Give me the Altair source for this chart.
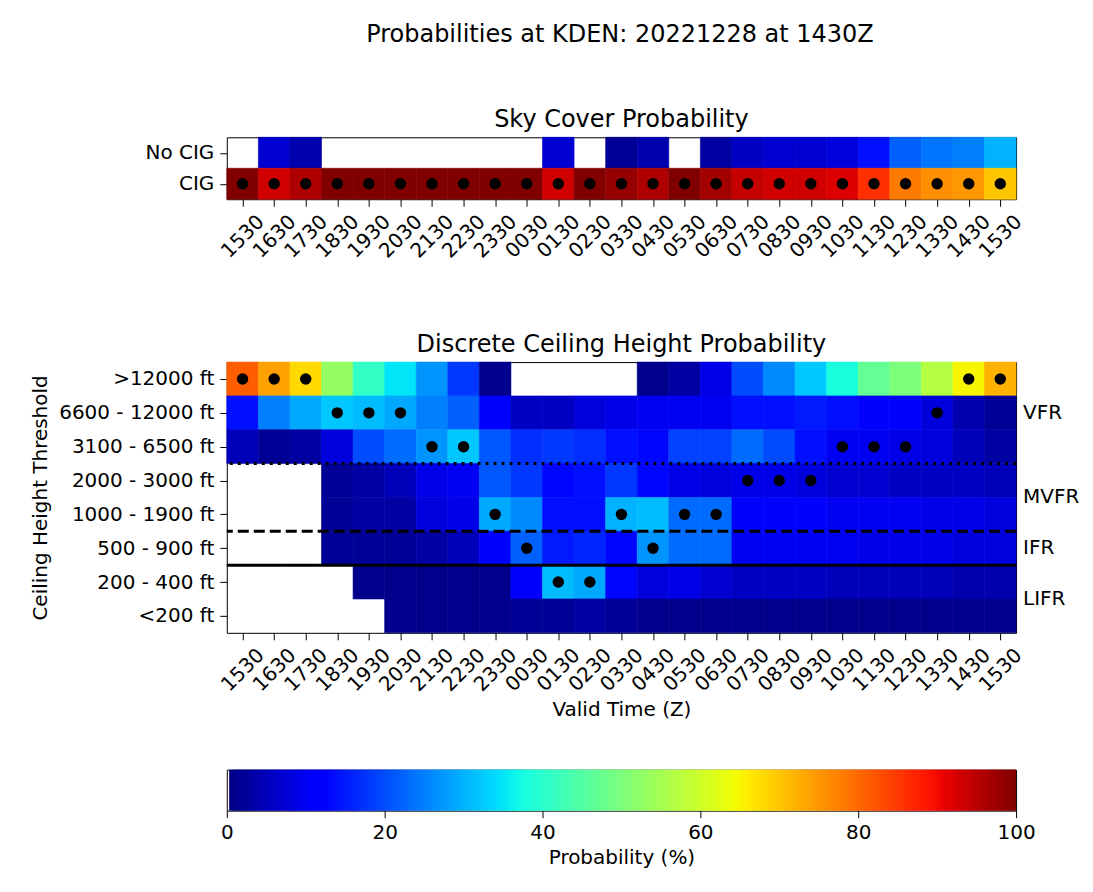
import altair as alt
import pandas as pd

# ---------------- data ----------------
main_title = "Probabilities at KDEN: 20221228 at 1430Z"
times = ["1530", "1630", "1730", "1830", "1930", "2030", "2130", "2230", "2330", "0030",
         "0130", "0230", "0330", "0430", "0530", "0630", "0730", "0830", "0930", "1030",
         "1130", "1230", "1330", "1430", "1530"]

sky_rows = ["No CIG", "CIG"]
sky_no_cig = [0, 7, 4, 0, 0, 0, 0, 0, 0, 0, 7, 0, 2, 4, 0, 3, 6, 7, 7, 8, 14, 22, 24, 25, 30]
sky_cig = [100, 93, 96, 100, 100, 100, 100, 100, 100, 100, 93, 100, 98, 96, 100, 97, 94, 93, 93, 92, 86, 78, 76, 75, 70]
sky_best = ["CIG"] * 25

ceil_rows = [">12000 ft", "6600 - 12000 ft", "3100 - 6500 ft", "2000 - 3000 ft",
             "1000 - 1900 ft", "500 - 900 ft", "200 - 400 ft", "<200 ft"]
ceil_gt12000 = [81, 74, 68, 53, 41, 35, 27, 18, 1, 0, 0, 0, 0, 1, 3, 9, 20, 26, 32, 38, 47, 50, 57, 65, 72]
ceil_6600 = [14, 25, 29, 32, 31, 29, 25, 22, 11, 6, 6, 8, 9, 10, 10, 10, 14, 14, 15, 14, 11, 11, 8, 4, 2]
ceil_3100 = [5, 2, 3, 8, 20, 23, 27, 32, 21, 17, 18, 17, 14, 13, 19, 19, 23, 20, 14, 10, 10, 9, 8, 5, 3]
ceil_2000 = [0, 0, 0, 2, 3, 5, 9, 10, 21, 18, 13, 14, 18, 13, 9, 8, 9, 9, 8, 7, 7, 6, 6, 6, 5]
ceil_1000 = [0, 0, 0, 2, 3, 3, 8, 9, 29, 26, 14, 14, 30, 31, 23, 23, 12, 12, 11, 10, 10, 10, 9, 9, 8]
ceil_500 = [0, 0, 0, 2, 2, 2, 3, 5, 11, 22, 15, 16, 13, 27, 23, 23, 10, 10, 10, 10, 9, 9, 9, 8, 8]
ceil_200 = [0, 0, 0, 0, 1, 1, 1, 1, 1, 11, 31, 29, 13, 8, 9, 7, 6, 6, 6, 5, 5, 5, 5, 4, 4]
ceil_lt200 = [0, 0, 0, 0, 0, 1, 1, 1, 1, 2, 2, 3, 2, 1, 1, 1, 1, 1, 1, 1, 1, 1, 1, 1, 1]
ceil_values = [ceil_gt12000, ceil_6600, ceil_3100, ceil_2000, ceil_1000, ceil_500, ceil_200, ceil_lt200]
ceil_best = [">12000 ft", ">12000 ft", ">12000 ft", "6600 - 12000 ft", "6600 - 12000 ft",
             "6600 - 12000 ft", "3100 - 6500 ft", "3100 - 6500 ft", "1000 - 1900 ft",
             "500 - 900 ft", "200 - 400 ft", "200 - 400 ft", "1000 - 1900 ft", "500 - 900 ft",
             "1000 - 1900 ft", "1000 - 1900 ft", "2000 - 3000 ft", "2000 - 3000 ft",
             "2000 - 3000 ft", "3100 - 6500 ft", "3100 - 6500 ft", "3100 - 6500 ft",
             "6600 - 12000 ft", ">12000 ft", ">12000 ft"]

# flight-category boundaries (lower edge of the row named) and labels
boundary_rows = ["3100 - 6500 ft", "1000 - 1900 ft", "500 - 900 ft"]
boundary_style = ["dotted", "dashed", "solid"]
flight_cats = ["VFR", "MVFR", "IFR", "LIFR"]
flight_cat_pos = [6.5, 4.0, 2.5, 1.0]   # in row units, counted from the bottom row
colorbar_ticks = [0, 20, 40, 60, 80, 100]

FONT = "DejaVu Sans"
W = 790

# ---------------- jet colormap ----------------
def _interp(pts, x):
    for (x0, y0), (x1, y1) in zip(pts, pts[1:]):
        if x0 <= x <= x1:
            return y0 if x1 == x0 else y0 + (y1 - y0) * (x - x0) / (x1 - x0)
    return pts[-1][1]

def jet(v):
    x = v / 100.0
    r = _interp([(0, 0), (0.35, 0), (0.66, 1), (0.89, 1), (1, 0.5)], x)
    g = _interp([(0, 0), (0.125, 0), (0.375, 1), (0.64, 1), (0.91, 0), (1, 0)], x)
    b = _interp([(0, 0.5), (0.11, 1), (0.34, 1), (0.65, 0), (1, 0)], x)
    return "#%02x%02x%02x" % (round(r * 255), round(g * 255), round(b * 255))

stops = [0, 11, 12.5, 34, 35, 37.5, 64, 65, 66, 89, 91, 100]
cscale = alt.Scale(domain=stops, range=[jet(s) for s in stops], interpolate="rgb", clamp=True)

# ---------------- helpers ----------------
n = len(times)
xs = alt.Scale(domain=[0, n], nice=False, zero=False)
x_label_expr = "[" + ",".join("'%s'" % t for t in times) + "][floor(datum.value)]"


def x_axis(title, title_pad, title_size=20):
    return alt.Axis(values=[i + 0.5 for i in range(n)], labelExpr=x_label_expr,
                    labelAngle=-45, labelAlign="center", labelBaseline="middle",
                    labelPadding=30, title=title, titlePadding=title_pad,
                    titleFontSize=title_size, labelFlush=False, labelOverlap=False)


def heat_panel(rows, values, best, title, height, ytitle, with_cats):
    m = len(rows)
    recs, dots = [], []
    for r, row in enumerate(rows):
        yi = m - 1 - r
        for c in range(n):
            recs.append({"x": c, "x2": c + 1, "y": yi, "y2": yi + 1, "p": values[r][c]})
    for c in range(n):
        yi = m - 1 - rows.index(best[c])
        dots.append({"x": c + 0.5, "y": yi + 0.5})
    df = pd.DataFrame(recs)
    ddf = pd.DataFrame(dots)
    ys = alt.Scale(domain=[0, m], nice=False, zero=False)
    y_label_expr = "[" + ",".join("'%s'" % rows[m - 1 - k] for k in range(m)) + "][floor(datum.value)]"
    yaxis = alt.Axis(values=[k + 0.5 for k in range(m)], labelExpr=y_label_expr,
                     title=ytitle, titlePadding=8, labelPadding=6)
    if with_cats:
        xaxis = x_axis("Valid Time (Z)", 5)
    else:
        xaxis = x_axis(" ", 2, 20)
    rect = alt.Chart(df).transform_filter("datum.p > 0").mark_rect(strokeWidth=0.6).encode(
        x=alt.X("x:Q", scale=xs, axis=xaxis),
        x2="x2:Q",
        y=alt.Y("y:Q", scale=ys, axis=yaxis),
        y2="y2:Q",
        color=alt.Color("p:Q", scale=cscale, legend=None),
        stroke=alt.Stroke("p:Q", scale=cscale, legend=None),
    )
    pts = alt.Chart(ddf).mark_circle(size=130, color="black", opacity=1).encode(
        x=alt.X("x:Q", scale=xs, axis=xaxis),
        y=alt.Y("y:Q", scale=ys, axis=yaxis),
    )
    layers = [rect, pts]
    if with_cats:
        bdf = pd.DataFrame({"y": [m - 1 - rows.index(b) for b in boundary_rows],
                            "style": boundary_style})
        rules = alt.Chart(bdf).mark_rule(strokeWidth=3, color="black").encode(
            y=alt.Y("y:Q", scale=ys, axis=yaxis),
            strokeDash=alt.StrokeDash("style:N", legend=None,
                                      scale=alt.Scale(domain=["dotted", "dashed", "solid"],
                                                      range=[[3, 5], [11, 5], [1, 0]])),
        )
        tdf = pd.DataFrame({"cat": flight_cats, "y": flight_cat_pos})
        txt = alt.Chart(tdf).mark_text(align="left", baseline="middle", dx=7,
                                       fontSize=20, font=FONT, color="black").encode(
            x=alt.XDatum(n, scale=xs, axis=xaxis),
            y=alt.Y("y:Q", scale=ys, axis=yaxis),
            text="cat:N",
        )
        layers += [rules, txt]
    return alt.layer(*layers).properties(
        width=W, height=height,
        title=alt.Title(title, fontSize=24, fontWeight="normal", font=FONT, offset=5),
    )


top = heat_panel(sky_rows, [sky_no_cig, sky_cig], sky_best, "Sky Cover Probability", 62, None, False)
bottom = heat_panel(ceil_rows, ceil_values, ceil_best, "Discrete Ceiling Height Probability", 271,
                    "Ceiling Height Threshold", True)

# colorbar (gradient drawn as many thin, slightly overlapping cells)
cb = []
step = 0.5
v = 0.3
while v < 100:
    hi = min(v + step, 100)
    cb.append({"lo": v, "hi": min(hi + 0.4, 100), "mid": (v + hi) / 2})
    v = hi
cbdf = pd.DataFrame(cb)
cbar = alt.Chart(cbdf).mark_rect().encode(
    x=alt.X("lo:Q", scale=alt.Scale(domain=[0, 100], nice=False),
            axis=alt.Axis(values=colorbar_ticks, title="Probability (%)", labelAngle=0,
                          labelPadding=5, titlePadding=5, labelFlush=False)),
    x2="hi:Q",
    color=alt.Color("mid:Q", scale=cscale, legend=None),
).properties(width=W, height=41)

chart = alt.vconcat(top, bottom, cbar, spacing=48).properties(
    title=alt.Title(main_title, fontSize=24, fontWeight="normal", font=FONT, offset=61,
                    anchor="middle", dx=65),
    padding={"left": 22, "top": 14, "right": 5, "bottom": 5},
    background="white",
).resolve_scale(color="shared", stroke="shared").configure_view(
    stroke="black", strokeWidth=1
).configure_axis(
    grid=False, domain=False, tickColor="black", tickSize=7, tickWidth=1,
    labelFont=FONT, labelFontSize=20, labelColor="black",
    titleFont=FONT, titleFontSize=20, titleFontWeight="normal", titleColor="black",
).configure_title(font=FONT, color="black", fontWeight="normal")

chart.save("out.html", embed_options={"renderer": "svg", "actions": False})
